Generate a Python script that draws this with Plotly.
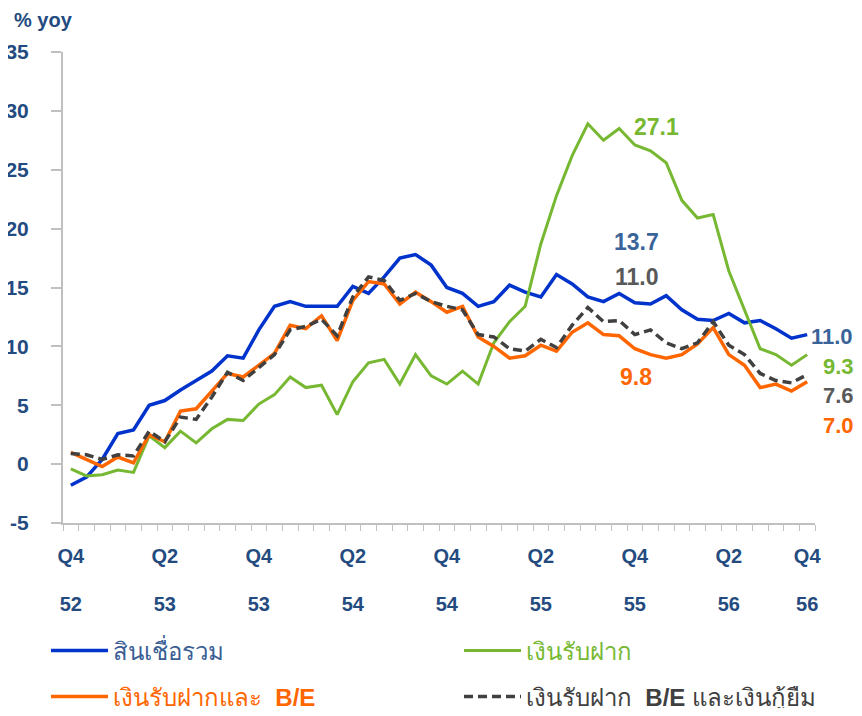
import plotly.graph_objects as go

# monthly % yoy, Dec 2552 .. Nov 2556 (48 points)
credit = [-1.8, -1.1, 0.4, 2.6, 2.9, 5.0, 5.4, 6.3, 7.1, 7.9, 9.2, 9.0,
          11.4, 13.4, 13.8, 13.4, 13.4, 13.4, 15.1, 14.5, 15.9, 17.5, 17.8, 16.9,
          15.0, 14.5, 13.4, 13.8, 15.2, 14.6, 14.2, 16.1, 15.3, 14.2, 13.8, 14.5,
          13.7, 13.6, 14.3, 13.1, 12.3, 12.2, 12.8, 12.0, 12.2, 11.5, 10.7, 11.0]
deposits = [-0.4, -1.0, -0.9, -0.5, -0.7, 2.4, 1.4, 2.8, 1.8, 3.0, 3.8, 3.7,
            5.1, 5.9, 7.4, 6.5, 6.7, 4.2, 7.0, 8.6, 8.9, 6.8, 9.3, 7.5,
            6.8, 7.9, 6.8, 10.3, 12.1, 13.4, 18.7, 22.8, 26.2, 28.9, 27.5, 28.5,
            27.1, 26.6, 25.6, 22.4, 20.9, 21.2, 16.4, 13.1, 9.8, 9.3, 8.4, 9.3]
dep_be = [1.0, 0.4, -0.2, 0.6, 0.1, 2.5, 1.9, 4.5, 4.7, 6.2, 7.7, 7.4,
          8.4, 9.4, 11.8, 11.5, 12.6, 10.5, 13.9, 15.5, 15.3, 13.6, 14.6, 13.8,
          12.9, 13.4, 10.8, 10.0, 9.0, 9.2, 10.1, 9.6, 11.2, 12.0, 11.0, 10.9,
          9.8, 9.3, 9.0, 9.3, 10.2, 11.6, 9.3, 8.4, 6.5, 6.8, 6.2, 7.0]
dep_be_borrow = [0.9, 0.8, 0.4, 0.8, 0.7, 2.8, 1.9, 4.0, 3.8, 5.7, 7.8, 7.1,
                 8.2, 9.3, 11.4, 11.7, 12.3, 10.9, 14.2, 15.9, 15.6, 13.9, 14.5, 13.8,
                 13.4, 13.1, 11.0, 10.8, 9.8, 9.6, 10.6, 9.9, 11.8, 13.3, 12.1, 12.2,
                 11.0, 11.4, 10.3, 9.8, 10.3, 12.1, 10.1, 9.3, 7.7, 7.1, 6.9, 7.6]

tick_idx = [0, 6, 12, 18, 24, 30, 36, 42, 47]
tick_q = ["Q4", "Q2", "Q4", "Q2", "Q4", "Q2", "Q4", "Q2", "Q4"]
tick_yr = ["52", "53", "53", "54", "54", "55", "55", "56", "56"]
y_ticks = [-5, 0, 5, 10, 15, 20, 25, 30, 35]

x = list(range(len(credit)))

NAVY = "#244b80"
BLUE = "#0033cc"
GREEN = "#77b832"
ORANGE = "#ff6600"
DARK = "#404040"
AXIS = "#c0c0c0"
FONT = "Liberation Sans, Arial, sans-serif"

fig = go.Figure()
# one legend per entry so the 2x2 grid can be placed exactly
series = [
    (credit, BLUE, "solid", 3.5, '<span style="color:#3b5e95">สินเชื่อรวม</span>', "legend"),
    (deposits, GREEN, "solid", 3, '<span style="color:#77b832">เงินรับฝาก</span>', "legend2"),
    (dep_be, ORANGE, "solid", 3.5, '<span style="color:#ff6600">เงินรับฝากและ  <b>B/E</b></span>', "legend3"),
    (dep_be_borrow, DARK, "9px,5px", 3.5,
     '<span style="color:#404040">เงินรับฝาก  <b>B/E</b> และเงินกู้ยืม</span>', "legend4"),
]
for ys, col, dash, w, name, leg in series:
    fig.add_trace(go.Scatter(
        x=x, y=ys, mode="lines", name=name, legend=leg,
        line=dict(color=col, width=w, dash=dash),
    ))

# dummy trace so the year axis is drawn
fig.add_trace(go.Scatter(x=[None], y=[None], xaxis="x2", showlegend=False, hoverinfo="skip"))

# data labels
i_mid, i_end = 36, len(credit) - 1
labels = [
    (i_mid, deposits, GREEN, 22, 18, "center", 23),
    (i_mid, credit, "#3a6499", 2, 61, "center", 23),
    (i_mid, dep_be_borrow, "#595959", 2, 58, "center", 23),
    (i_mid, dep_be, ORANGE, 1, -28, "center", 23),
    (i_end, credit, "#3a6499", 2, -2, "left", 22),
    (i_end, deposits, GREEN, 14, -12, "left", 22),
    (i_end, dep_be_borrow, "#595959", 14, -21, "left", 22),
    (i_end, dep_be, ORANGE, 14, -44, "left", 22),
]
for i, ys, col, dx, dy, anchor, size in labels:
    fig.add_annotation(
        x=i, y=ys[i], xref="x", yref="y", text=f"{ys[i]:.1f}",
        showarrow=False, xshift=dx, yshift=dy, xanchor=anchor,
        font=dict(size=size, color=col, family=FONT, weight="bold"),
    )

fig.add_annotation(
    x=-51 / 752, y=1 + 32 / 471, xref="paper", yref="paper",
    xanchor="left", yanchor="middle", text="% yoy", showarrow=False,
    font=dict(size=20, color=NAVY, family=FONT, weight="bold"),
)

xr = [-0.5, len(credit) - 0.5]
tick_font = dict(size=20, color=NAVY, family=FONT, weight="bold")
leg_common = dict(orientation="h", xanchor="left", yanchor="middle", itemwidth=57,
                  font=dict(size=24, family=FONT), bgcolor="rgba(0,0,0,0)")
col1, col2 = -0.0226, 0.5266
row1, row2 = -0.2718, -0.369

# page has an 8px body margin, so the figure is smaller and margins shifted
fig.update_layout(
    width=854, height=700,
    margin=dict(l=55, r=47, t=44, b=185, autoexpand=False),
    paper_bgcolor="white", plot_bgcolor="white",
    font=dict(family=FONT, color=NAVY),
    xaxis=dict(
        range=xr, tickmode="array", tickvals=tick_idx, ticktext=tick_q,
        ticks="", showline=True, linecolor=AXIS, linewidth=2,
        showgrid=False, zeroline=False, ticklabelstandoff=14,
        tickfont=tick_font, automargin=False,
        minor=dict(tickmode="linear", tick0=-0.5, dtick=1, ticks="outside",
                   ticklen=6, tickcolor=AXIS, tickwidth=1, showgrid=False),
    ),
    xaxis2=dict(
        range=xr, overlaying="x", side="bottom", tickmode="array",
        tickvals=tick_idx, ticktext=tick_yr,
        ticks="", showline=False, showgrid=False, zeroline=False,
        ticklabelstandoff=67, tickfont=tick_font, automargin=False,
    ),
    yaxis=dict(
        range=[-5, 35], tickmode="array", tickvals=y_ticks,
        ticktext=[str(v) for v in y_ticks],
        ticks="outside", ticklen=10, tickcolor=AXIS, tickwidth=2,
        showline=True, linecolor=AXIS, linewidth=2,
        showgrid=False, zeroline=False, ticklabelstandoff=18,
        tickfont=dict(size=21, color=NAVY, family=FONT, weight="bold"),
        automargin=False,
    ),
    legend=dict(x=col1, y=row1, **leg_common),
    legend2=dict(x=col2, y=row1, **leg_common),
    legend3=dict(x=col1, y=row2, **leg_common),
    legend4=dict(x=col2, y=row2, **leg_common),
)

fig.write_html("out.html")
